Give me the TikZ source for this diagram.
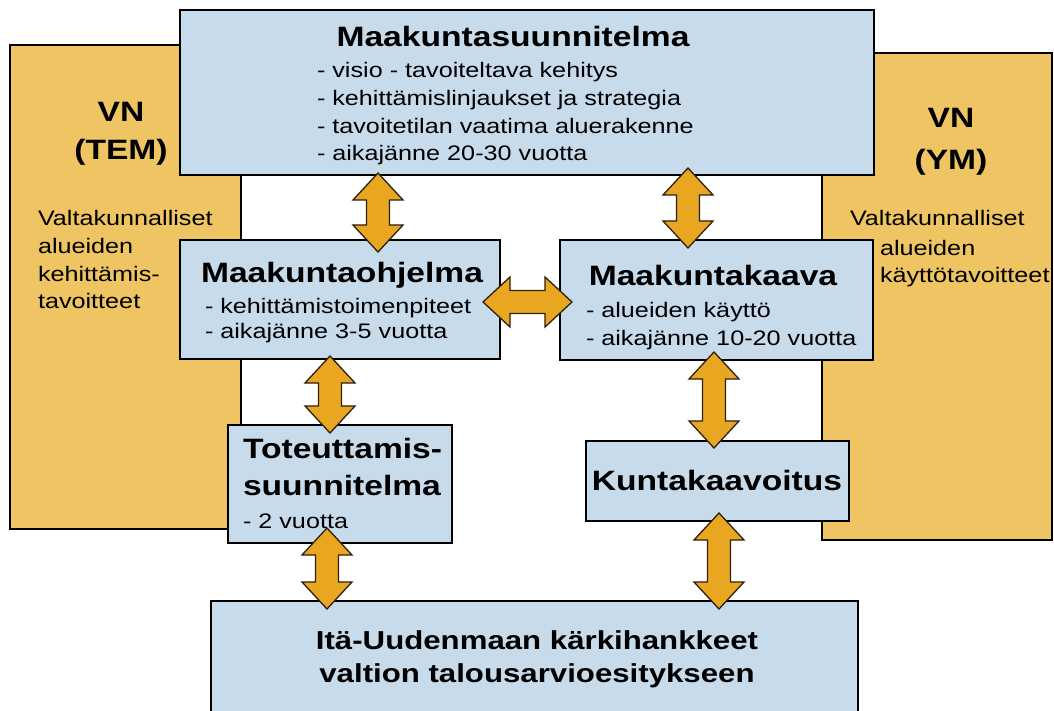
\documentclass[tikz,border=0pt]{standalone}
\usepackage{fontspec}
\setmainfont{Liberation Sans}[FakeStretch=1.2]
\usetikzlibrary{calc}
\definecolor{boxc}{RGB}{200,219,235}
\definecolor{goldc}{RGB}{239,197,100}
\definecolor{arrowc}{RGB}{233,166,32}
\definecolor{arrowedge}{RGB}{45,32,14}
\newcommand\boxtitlefont{\fontsize{28}{34}\selectfont\bfseries}
\newcommand\boxbodyfont{\fontsize{21}{27.7}\selectfont}
\newcommand\botfont{\fontsize{26}{33}\selectfont\bfseries}
\begin{document}
\begin{tikzpicture}[x=1pt,y=-1pt,
  goldpanel/.style={draw=black, line width=1.5pt, fill=goldc, inner sep=0pt, outer sep=0pt},
  bluebox/.style={draw=black, line width=2pt, fill=boxc, inner sep=0pt, outer sep=0pt},
  txt/.style={inner sep=0pt, outer sep=0pt, align=left, text=black, anchor=base west},
  ctxt/.style={inner sep=0pt, outer sep=0pt, align=center, text=black, anchor=base},
  fatarrow/.style={fill=arrowc, draw=arrowedge, line width=1.3pt, line join=miter,
    to path={
      -- ($(\tikztostart)!27pt!(\tikztotarget)!25pt!90:(\tikztotarget)$)
      -- ($(\tikztostart)!27pt!(\tikztotarget)!11.5pt!90:(\tikztotarget)$)
      -- ($(\tikztotarget)!27pt!(\tikztostart)!11.5pt!-90:(\tikztostart)$)
      -- ($(\tikztotarget)!27pt!(\tikztostart)!25pt!-90:(\tikztostart)$)
      -- (\tikztotarget)
      -- ($(\tikztotarget)!27pt!(\tikztostart)!25pt!90:(\tikztostart)$)
      -- ($(\tikztotarget)!27pt!(\tikztostart)!11.5pt!90:(\tikztostart)$)
      -- ($(\tikztostart)!27pt!(\tikztotarget)!11.5pt!-90:(\tikztotarget)$)
      -- ($(\tikztostart)!27pt!(\tikztotarget)!25pt!-90:(\tikztotarget)$)
      -- cycle}}
]
\useasboundingbox (0,0) rectangle (1054,711);
\clip (0,0) rectangle (1054,711);
\fill[white] (0,0) rectangle (1054,711);

% gold side panels
\node[goldpanel, minimum width=231pt, minimum height=484pt] (goldL) at (125.5,287) {};
\node[goldpanel, minimum width=230pt, minimum height=487pt] (goldR) at (937,296.5) {};

% (multi-line nodes: base anchor = baseline of last line)
\node[ctxt, font=\fontsize{28}{38}\selectfont\bfseries] (vnL) at (121,160) {VN\\(TEM)};
\node[txt, font=\fontsize{21}{27.5}\selectfont] (goalL) at (38,308.5)
  {Valtakunnalliset\\alueiden\\kehittämis-\\tavoitteet};

\node[ctxt, font=\fontsize{28}{42}\selectfont\bfseries] (vnR) at (951,170) {VN\\(YM)};
\node[txt, font=\fontsize{21}{28}\selectfont] (goalR1) at (850,226) {Valtakunnalliset};
\node[txt, font=\fontsize{21}{28}\selectfont] (goalR2) at (880,283) {alueiden\\käyttötavoitteet};

% blue boxes
\node[bluebox, minimum width=694pt, minimum height=165pt] (top) at (527,92.5) {};
\node[bluebox, minimum width=320pt, minimum height=119pt] (mo) at (340,299.5) {};
\node[bluebox, minimum width=313pt, minimum height=120pt] (mk) at (716.5,300) {};
\node[bluebox, minimum width=224pt, minimum height=118pt] (tot) at (340,484) {};
\node[bluebox, minimum width=263pt, minimum height=80pt] (kk) at (717.5,481) {};
\node[bluebox, minimum width=647pt, minimum height=129pt] (bot) at (534.5,665.5) {};

% texts in boxes
\node[ctxt, font=\boxtitlefont] (topT) at (513,47) {Maakuntasuunnitelma};
\node[txt, font=\boxbodyfont] (topB) at (317,161)
  {- visio - tavoiteltava kehitys\\- kehittämislinjaukset ja strategia\\- tavoitetilan vaatima aluerakenne\\- aikajänne 20-30 vuotta};

\node[ctxt, font=\boxtitlefont] (moT) at (342,283) {Maakuntaohjelma};
\node[txt, font=\fontsize{21}{25}\selectfont] (moB) at (205,338)
  {- kehittämistoimenpiteet\\- aikajänne 3-5 vuotta};

\node[ctxt, font=\boxtitlefont] (mkT) at (713,285) {Maakuntakaava};
\node[txt, font=\fontsize{21}{28}\selectfont] (mkB) at (586,345)
  {- alueiden käyttö\\- aikajänne 10-20 vuotta};

\node[txt, font=\fontsize{28}{37}\selectfont\bfseries] (totT) at (243,495)
  {Toteuttamis-\\suunnitelma};
\node[txt, font=\fontsize{21}{25}\selectfont] (totB) at (243,528) {- 2 vuotta};

\node[ctxt, font=\boxtitlefont] (kkT) at (717,490) {Kuntakaavoitus};

\node[ctxt, font=\botfont] (botT) at (537,682)
  {Itä-Uudenmaan kärkihankkeet\\valtion talousarvioesitykseen};

% double arrows
\draw[fatarrow] ([xshift=-149pt,yshift=2pt]top.south) to ([xshift=38pt,yshift=-12pt]mo.north);
\draw[fatarrow] ([xshift=161pt,yshift=7pt]top.south) to ([xshift=-28.5pt,yshift=-8pt]mk.north);
\draw[fatarrow] ([xshift=-17pt,yshift=-2.5pt]mo.east) to ([xshift=12pt,yshift=-2pt]mk.west);
\draw[fatarrow] ([xshift=-10pt,yshift=3pt]mo.south) to ([xshift=-10pt,yshift=-8pt]tot.north);
\draw[fatarrow] ([xshift=-13pt,yshift=15pt]tot.south) to ([xshift=-207.5pt,yshift=-8pt]bot.north);
\draw[fatarrow] ([xshift=-2.5pt,yshift=8pt]mk.south) to ([xshift=-3.5pt,yshift=-7pt]kk.north);
\draw[fatarrow] ([xshift=1.5pt,yshift=8pt]kk.south) to ([xshift=184.5pt,yshift=-8pt]bot.north);
\end{tikzpicture}
\end{document}
